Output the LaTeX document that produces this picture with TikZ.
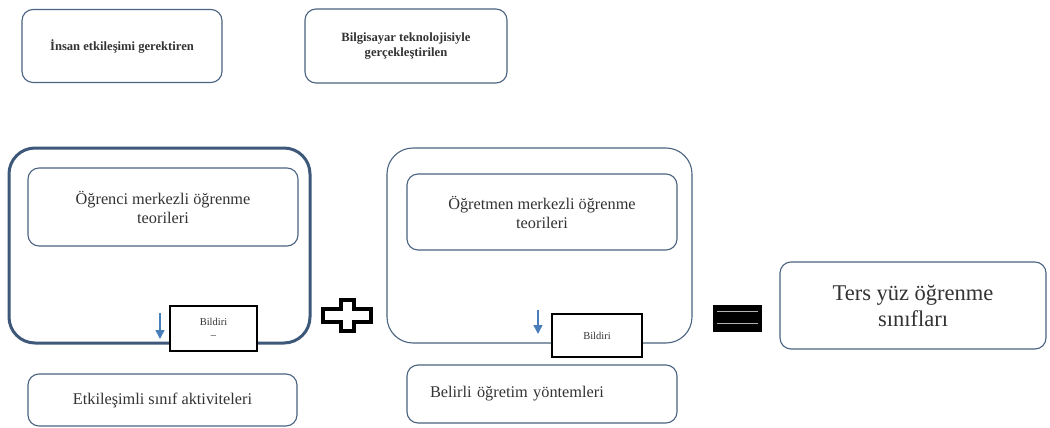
\documentclass[tikz,border=0pt]{standalone}
\usepackage{fontspec}
\setmainfont{Liberation Serif}
\usetikzlibrary{arrows.meta}
\definecolor{bord}{HTML}{4A6380}
\definecolor{bordthick}{HTML}{3D5878}
\definecolor{txt}{HTML}{333333}
\definecolor{arr}{HTML}{4A7EBB}
\tikzset{
  rbox/.style={draw=bord, line width=1.1pt, rounded corners=11pt, fill=white, text=txt, align=center, inner sep=0pt},
  bigbox/.style={draw=bord, line width=1.1pt, rounded corners=26pt, inner sep=0pt},
  bildbox/.style={draw=black, line width=1.2pt, fill=white, text=txt, align=center, inner sep=0pt, font=\fontsize{10.5}{13}\selectfont},
  darr/.style={arr, line width=1.6pt, -{Triangle[width=9pt,length=9pt]}},
  midfont/.style={font=\fontsize{16.3}{19}\selectfont},
}
\begin{document}
\begin{tikzpicture}[x=1pt,y=-1pt]
\useasboundingbox[fill=white] (0,0) rectangle (1050,428);
% top boxes
\node[rbox, minimum width=200, minimum height=73, font=\bfseries\fontsize{12.6}{15}\selectfont] (top1) at (122,46) {İnsan etkileşimi gerektiren};
\node[rbox, minimum width=202, minimum height=74, font=\bfseries\fontsize{12.6}{15}\selectfont] (top2) at (406,46) {Bilgisayar teknolojisiyle\\gerçekleştirilen};
% left big box
\node[bigbox, draw=bordthick, line width=3pt, minimum width=301, minimum height=195] (lbig) at (159.5,245.5) {};
\node[rbox, minimum width=270, minimum height=78, midfont] (linner) at (163,207) {Öğrenci merkezli öğrenme\\teorileri};
\node[bildbox, minimum width=87, minimum height=45] (lbild) at (213.5,328.5) {Bildiri\\–};
\coordinate (la1) at (160,313);
\coordinate (la2) at (160,339);
\draw[darr] (la1) -- (la2);
\node[rbox, minimum width=269, minimum height=52, midfont] (lbot) at (162.5,400) {Etkileşimli sınıf aktiviteleri};
% middle big box
\node[bigbox, minimum width=305, minimum height=195] (mbig) at (539.5,245.5) {};
\node[rbox, minimum width=270, minimum height=76, midfont] (minner) at (542,212) {Öğretmen merkezli öğrenme\\teorileri};
\node[bildbox, minimum width=90, minimum height=43] (mbild) at (597,335.5) {Bildiri};
\coordinate (ma1) at (538,310);
\coordinate (ma2) at (538,334);
\draw[darr] (ma1) -- (ma2);
\node[rbox, text width=224, inner xsep=23, align=left, minimum height=58, midfont] (mbot) at (542,394) {Belirli öğretim yöntemleri};
% plus sign
\draw[line width=3.4pt, fill=white, line join=miter]
  (341,300) -- (354,300) -- (354,309) -- (371,309) -- (371,322) -- (354,322) -- (354,331) -- (341,331) -- (341,322) -- (323,322) -- (323,309) -- (341,309) -- cycle;
% equals sign
\fill[black] (713,305) rectangle (762,332);
\draw[gray!60, line width=0.7pt] (717,311.7) -- (758,311.7);
\draw[gray!60, line width=0.7pt] (717,323.3) -- (758,323.3);
% result box
\node[rbox, minimum width=266, minimum height=87, font=\fontsize{22.5}{26}\selectfont] (res) at (913,305.5) {Ters yüz öğrenme\\sınıfları};
\end{tikzpicture}
\end{document}
